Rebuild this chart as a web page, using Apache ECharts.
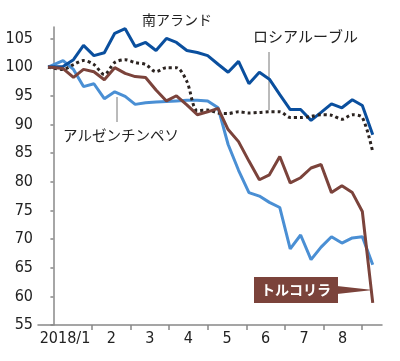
<!DOCTYPE html>
<html><head><meta charset="utf-8">
<script src="https://cdn.jsdelivr.net/npm/echarts@6/dist/echarts.min.js"></script>
<style>html,body{margin:0;padding:0;background:#fff}#c{width:400px;height:361px}</style>
</head><body><div id="c"></div>
<script>
// x positions in months since 2018/1/1 (1 = Feb 1)
const xs = [-0.14,0.25,0.52,0.78,1.05,1.32,1.59,1.86,2.12,2.39,2.66,2.93,3.19,3.46,3.73,4.0,4.27,4.53,4.8,5.07,5.34,5.6,5.87,6.14,6.41,6.68,6.94,7.21,7.48,7.75,8.01,8.28];
const zar = [100,100.1,101.3,103.8,102.0,102.5,105.9,106.7,103.6,104.3,102.9,105.0,104.3,102.9,102.55,102.0,100.5,99.1,101.0,97.1,99.1,97.9,95.2,92.6,92.6,90.7,92.1,93.6,92.9,94.3,93.3,88.2];
const rub = [100,99.6,100.45,101.15,100.45,98.7,100.8,101.3,100.8,100.45,99.2,99.9,99.9,97.5,92.4,92.5,92.0,91.9,92.2,92.0,92.1,92.2,92.2,91.2,91.2,91.4,91.7,91.6,90.9,91.7,91.2,85.2];
const ars = [100,101.15,99.6,96.6,97.1,94.5,95.7,94.9,93.5,93.8,93.9,94.0,94.1,94.2,94.2,94.1,92.9,86.5,82.0,78.1,77.5,76.4,75.5,68.3,70.7,66.4,68.6,70.4,69.3,70.2,70.4,65.5];
const tryl = [100,99.75,98.2,99.6,99.2,97.8,99.9,98.9,98.35,98.2,96.0,94.1,95.0,93.4,91.7,92.2,92.8,89.1,87.0,83.6,80.35,81.2,84.4,79.8,80.7,82.4,83.0,78.1,79.3,78.1,74.8,58.85];
const monthTicks = [1,2,3,4,5,6,7,8];
const monthLabelPos = [0.3,1.5,2.5,3.5,4.5,5.5,6.5,7.5];
const monthLabels = ['2018/1','2','3','4','5','6','7','8'];
const yTicks = [55,60,65,70,75,80,85,90,95,100,105];

const pair = arr => xs.map((x,i)=>[x,arr[i]]);
const numFont = "'Liberation Sans Narrow','DejaVu Sans Condensed',sans-serif";
const jpFont = "'Noto Sans CJK JP',sans-serif";

const chart = echarts.init(document.getElementById('c'));
chart.setOption({
  animation:false,
  grid:{left:38,right:18,top:27,bottom:36},
  xAxis:{type:'value',min:-0.4,max:8.52,
    axisLine:{lineStyle:{color:'#888',width:1.5}},
    axisTick:{customValues:monthTicks,length:5,lineStyle:{color:'#888',width:1.5}},
    axisLabel:{customValues:monthLabelPos,margin:6,color:'#222',fontSize:16,fontFamily:numFont,
      formatter:v=>{const i=monthLabelPos.findIndex(p=>Math.abs(p-v)<1e-6);return i>=0?monthLabels[i]:'';}},
    splitLine:{show:false}},
  yAxis:{type:'value',min:55,max:107,
    axisLine:{show:true,lineStyle:{color:'#888',width:1.5}},
    axisTick:{show:true,customValues:yTicks,length:3,lineStyle:{color:'#888',width:1.5}},
    axisLabel:{customValues:yTicks,margin:5,color:'#222',fontSize:16,fontFamily:numFont},
    splitLine:{show:false}},
  series:[
    {type:'line',data:pair(ars),symbol:'none',lineStyle:{color:'#4a8fd4',width:3},z:2},
    {type:'line',data:pair(zar),symbol:'none',lineStyle:{color:'#0a4f9e',width:3},z:3},
    {type:'line',data:pair(rub),symbol:'none',smooth:0.3,lineStyle:{color:'#2b2320',width:3,type:[3,3]},z:4},
    {type:'line',data:pair(tryl),symbol:'none',lineStyle:{color:'#7b433b',width:3},z:5}
  ],
  graphic:[
    {type:'text',left:142,top:13,style:{text:'南アランド',font:"14px "+jpFont,fill:'#222'}},
    {type:'text',left:253,top:29,style:{text:'ロシアルーブル',font:"15px "+jpFont,fill:'#222'}},
    {type:'line',shape:{x1:269,y1:52,x2:269,y2:110},style:{stroke:'#777',lineWidth:1}},
    {type:'text',left:63,top:128,style:{text:'アルゼンチンペソ',font:"14.5px "+jpFont,fill:'#222'}},
    {type:'line',shape:{x1:117,y1:97,x2:117,y2:122},style:{stroke:'#777',lineWidth:1}},
    {type:'polygon',shape:{points:[[337,286],[373,290],[337,294]]},style:{fill:'#7b433b'},z:10},
    {type:'rect',shape:{x:254,y:277,width:84,height:26},style:{fill:'#7b433b'},z:10},
    {type:'text',x:296,y:290,style:{text:'トルコリラ',font:"bold 14px "+jpFont,fill:'#fff',align:'center',verticalAlign:'middle'},z:11}
  ]
});
</script></body></html>
